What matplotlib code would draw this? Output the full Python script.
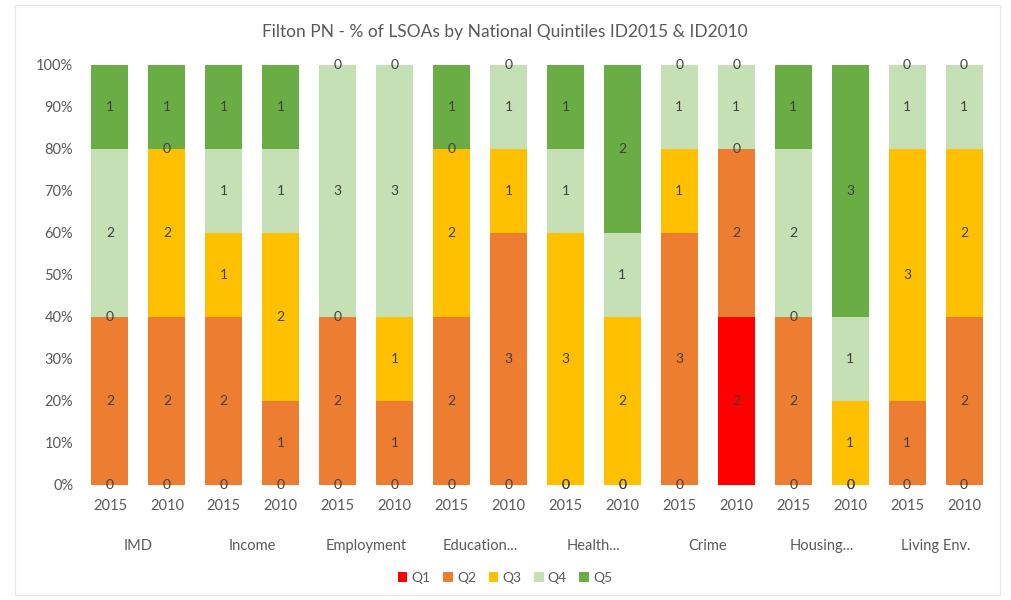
import matplotlib
matplotlib.use("Agg")
import matplotlib.pyplot as plt
import numpy as np
from matplotlib.patches import Patch, Rectangle

domains = ["IMD", "Income", "Employment", "Education...", "Health...",
           "Crime", "Housing...", "Living Env."]
years = ["2015", "2010"]

# Number of LSOAs in each national quintile, per domain and year (2015, 2010 pairs)
q1 = [0, 0, 0, 0, 0, 0, 0, 0, 0, 0, 0, 2, 0, 0, 0, 0]
q2 = [2, 2, 2, 1, 2, 1, 2, 3, 0, 0, 3, 2, 2, 0, 1, 2]
q3 = [0, 2, 1, 2, 0, 1, 2, 1, 3, 2, 1, 0, 0, 1, 3, 2]
q4 = [2, 0, 1, 1, 3, 3, 0, 1, 1, 1, 1, 1, 2, 1, 1, 1]
q5 = [1, 1, 1, 1, 0, 0, 1, 0, 1, 2, 0, 0, 1, 3, 0, 0]

series_names = ["Q1", "Q2", "Q3", "Q4", "Q5"]
series = [q1, q2, q3, q4, q5]
colors = ["#FF0000", "#ED7D31", "#FFC000", "#C5E0B4", "#6AAD45"]

plt.rcParams["font.family"] = ["Lato", "DejaVu Sans"]
txt = "#595959"

fig = plt.figure(figsize=(10.12, 6.0), dpi=100)
ax = fig.add_axes([81.5 / 1012, 1 - 485 / 600, 911 / 1012, 420 / 600])

data = np.array(series, dtype=float)
totals = data.sum(axis=0)
pct = data / totals * 100
x = np.arange(data.shape[1])
bottom = np.zeros(data.shape[1])
for name, vals, p, c in zip(series_names, data, pct, colors):
    ax.bar(x, p, 0.65, bottom=bottom, color=c, label=name, zorder=2)
    for xi, (v, pi, b) in enumerate(zip(vals, p, bottom)):
        ax.text(xi, b + pi / 2, f"{int(v)}", ha="center", va="center",
                fontsize=10, color="#404040", zorder=3)
    bottom += p

ax.set_xlim(-0.5, len(x) - 0.5)
ax.set_ylim(0, 100)
ax.set_yticks(np.arange(0, 101, 10))
ax.set_yticklabels([f"{v}%" for v in range(0, 101, 10)], fontsize=10.5, color=txt)
ax.set_xticks(x)
ax.set_xticklabels([years[i % 2] for i in x], fontsize=10.5, color=txt)
ax.tick_params(axis="both", length=0, pad=6)
ax.tick_params(axis="x", pad=10)
for s in ax.spines.values():
    s.set_visible(False)

for i, d in enumerate(domains):
    ax.text(2 * i + 0.5, -14.5, d, ha="center", va="center", fontsize=10.5,
            color=txt, transform=ax.transData, clip_on=False)

fig.text(505 / 1012, 1 - 32 / 600, "Filton PN - % of LSOAs by National Quintiles ID2015 & ID2010",
         ha="center", va="center", fontsize=12.5, color=txt)

handles = [Patch(facecolor=c, label=n) for n, c in zip(series_names, colors)]
fig.legend(handles=handles, loc="center", bbox_to_anchor=(505 / 1012, 1 - 578 / 600),
           ncol=5, frameon=False, fontsize=10, labelcolor=txt, handlelength=0.7,
           handleheight=0.7, handletextpad=0.3, columnspacing=0.9)

fig.patches.append(Rectangle((15 / 1012, 5 / 600), 985 / 1012, 590 / 600,
                             transform=fig.transFigure, fill=False,
                             edgecolor="#E6E6E6", linewidth=0.8))

fig.savefig("out.png", dpi=100, facecolor="white")
